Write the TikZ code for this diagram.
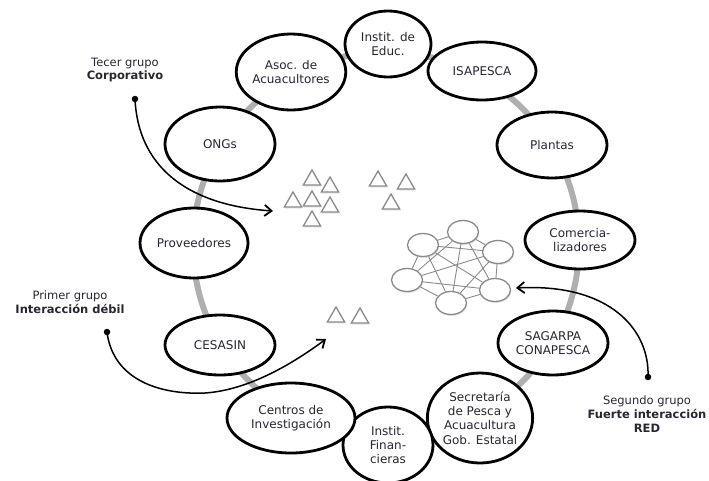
\documentclass[tikz,border=0pt]{standalone}
\usepackage{fontspec}
\setmainfont{DejaVu Sans}
\usetikzlibrary{shapes.geometric,arrows.meta,shadows}
\definecolor{txt}{HTML}{2A2530}
\definecolor{ring}{HTML}{AFAFAF}
\definecolor{tg}{HTML}{8A8A8A}
\begin{document}
\begin{tikzpicture}[x=1pt,y=-1pt,
  org/.style={ellipse, draw=black, line width=2.8pt, fill=white, inner sep=0pt,
    align=center, text=txt, font=\fontsize{12}{14.2}\selectfont},
  tri/.style={regular polygon, regular polygon sides=3, draw=tg, line width=1.3pt,
    fill=white, minimum size=20pt, inner sep=0pt,
    drop shadow={shadow xshift=0.8pt, shadow yshift=-1.5pt, opacity=0.2}},
  net/.style={ellipse, draw=tg, line width=1.3pt, fill=white, minimum width=31pt,
    minimum height=23pt, inner sep=0pt,
    drop shadow={shadow xshift=0.8pt, shadow yshift=-1.5pt, opacity=0.2}},
  netedge/.style={draw=tg, line width=0.9pt},
  ann/.style={align=center, text=txt, font=\fontsize{11.5}{13.8}\selectfont},
  dot/.style={circle, fill=black, inner sep=0pt, minimum size=6.5pt},
  arr/.style={line width=1.5pt, -{Straight Barb[length=7pt,width=11pt,line width=1.8pt]}}]
\useasboundingbox (0,0) rectangle (709,480);

% ring
\draw[ring, line width=6pt] (386,245) circle[radius=193];

% organisations
\node[org, minimum width=86pt, minimum height=66pt] (edu) at (388,44) {Instit. de\\Educ.};
\node[org, minimum width=108pt, minimum height=58pt] (isa) at (482,71) {ISAPESCA};
\node[org, minimum width=110pt, minimum height=66pt] (pla) at (552,145) {Plantas};
\node[org, minimum width=110pt, minimum height=58pt] (com) at (580,240) {Comercia-\\lizadores};
\node[org, minimum width=110pt, minimum height=64pt] (sag) at (553,343) {SAGARPA\\CONAPESCA};
\node[org, minimum width=100pt, minimum height=90pt] (sec) at (480,418) {Secretaría\\de Pesca y\\Acuacultura\\Gob. Estatal};
\node[org, minimum width=90pt, minimum height=76pt] (fin) at (388,445) {Instit.\\Finan-\\cieras};
\node[org, minimum width=128pt, minimum height=70pt] (cen) at (291,418) {Centros de\\Investigación};
\node[org, minimum width=110pt, minimum height=60pt] (ces) at (220,345) {CESASIN};
\node[org, minimum width=108pt, minimum height=70pt] (pro) at (194,243) {Proveedores};
\node[org, minimum width=110pt, minimum height=74pt] (ong) at (220,144) {ONGs};
\node[org, minimum width=108pt, minimum height=76pt] (aso) at (291,72) {Asoc. de\\Acuacultores};

% triangles
\node[tri] (t1) at (312,180) {};
\node[tri] (t2) at (330,187) {};
\node[tri] (t3) at (293,202) {};
\node[tri] (t4) at (312,201) {};
\node[tri] (t5) at (330,207) {};
\node[tri] (t6) at (312,221) {};
\node[tri] (t7) at (378,181) {};
\node[tri] (t8) at (406,184) {};
\node[tri] (t9) at (391,204) {};
\node[tri] (t10) at (336,317) {};
\node[tri] (t11) at (360,318) {};

% network
\node[net] (n1) at (423,245) {};
\node[net] (n2) at (463,232) {};
\node[net] (n3) at (498,252) {};
\node[net] (n4) at (407,280) {};
\node[net] (n5) at (495,290) {};
\node[net] (n6) at (451,303) {};
\foreach \a/\b in {n1/n2,n1/n3,n1/n4,n1/n5,n1/n6,n2/n3,n2/n4,n2/n5,n2/n6,n3/n4,n3/n5,n3/n6,n4/n5,n4/n6,n5/n6}
  \draw[netedge] (\a) -- (\b);

% annotations
\node[ann] (g3) at (125,70) {Tecer grupo\\\textbf{Corporativo}};
\node[dot] (d3) at (135,99) {};
\coordinate (e3) at (273,211);
\draw[arr] (d3.center) .. controls (138,165) and (185,205) .. (e3);

\node[ann] (g1) at (70,302) {Primer grupo\\\textbf{Interacción débil}};
\node[dot] (d1) at (107,332) {};
\coordinate (e1) at (326,339);
\draw[arr] (d1.center) .. controls (113,380) and (160,395) .. (205,393)
  .. controls (250,390) and (295,362) .. (e1);

\node[ann] (g2) at (647,414) {Segundo grupo\\\textbf{Fuerte interacción}\\\textbf{RED}};
\node[dot] (d2) at (648,377) {};
\coordinate (e2) at (516,288);
\draw[arr] (d2.center) .. controls (650,330) and (610,283) .. (e2);
\end{tikzpicture}
\end{document}
